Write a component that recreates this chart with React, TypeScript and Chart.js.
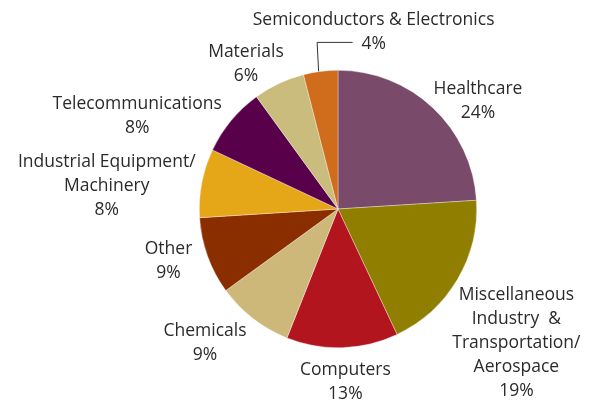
import React, { useEffect, useRef } from "react";
import { Chart, registerables } from "chart.js";

Chart.register(...registerables);

const categories = [
  "Healthcare",
  "Miscellaneous Industry & Transportation/ Aerospace",
  "Computers",
  "Chemicals",
  "Other",
  "Industrial Equipment/ Machinery",
  "Telecommunications",
  "Materials",
  "Semiconductors & Electronics",
];
const values = [24, 19, 13, 9, 9, 8, 8, 6, 4];
const labelLines = [
  ["Healthcare"],
  ["Miscellaneous", "Industry  &", "Transportation/", "Aerospace"],
  ["Computers"],
  ["Chemicals"],
  ["Other"],
  ["Industrial Equipment/", "Machinery"],
  ["Telecommunications"],
  ["Materials"],
  ["Semiconductors & Electronics"],
];
const colors = [
  "#7A4A6B",
  "#8F7E00",
  "#B3151F",
  "#CDB87A",
  "#8A2E00",
  "#E5A618",
  "#59004B",
  "#C9BC7C",
  "#CF6D1C",
];
// label block offsets (px) relative to the slice's outer mid-point
const labelOffsets = [
  [45, -7],
  [59, 63],
  [3, 34],
  [-48, 24],
  [-39, 5],
  [-95, 3],
  [-94, -5],
  [-33, -19],
  [53, -39],
];
const leaderIndex = 8;

const FONT = '17.5px "Open Sans"';
const LINE_H = 24;

const labelPlugin = {
  id: "outerLabels",
  afterDraw(chart: any) {
    const ctx = chart.ctx;
    const meta = chart.getDatasetMeta(0);
    ctx.save();
    ctx.font = FONT;
    ctx.fillStyle = "#2b2b2b";
    ctx.textAlign = "center";
    ctx.textBaseline = "middle";
    meta.data.forEach((arc: any, i: number) => {
      const { x, y, startAngle, endAngle, outerRadius } = arc.getProps(
        ["x", "y", "startAngle", "endAngle", "outerRadius"],
        true
      );
      const mid = (startAngle + endAngle) / 2;
      const px = x + Math.cos(mid) * outerRadius;
      const py = y + Math.sin(mid) * outerRadius;
      const lines = [...labelLines[i], values[i] + "%"];
      const cx = px + labelOffsets[i][0];
      const cy = py + labelOffsets[i][1];
      const top = cy - ((lines.length - 1) * LINE_H) / 2;
      lines.forEach((t, k) => ctx.fillText(t, cx, top + k * LINE_H));
      if (i === leaderIndex) {
        const hy = top + LINE_H * 0.5 + 10;
        ctx.strokeStyle = "#333";
        ctx.lineWidth = 1;
        ctx.beginPath();
        ctx.moveTo(px - 2, py);
        ctx.lineTo(px - 3.5, hy);
        ctx.lineTo(px + 32, hy);
        ctx.stroke();
      }
    });
    ctx.restore();
  },
};

export default function App() {
  const ref = useRef<HTMLCanvasElement | null>(null);
  useEffect(() => {
    document.body.style.margin = "0";
    const chart = new Chart(ref.current!, {
      type: "pie",
      data: {
        labels: categories,
        datasets: [
          {
            data: values,
            backgroundColor: colors,
            borderWidth: 0.6,
            borderColor: "rgba(255,255,255,0.6)",
          },
        ],
      },
      options: {
        responsive: false,
        animation: false,
        layout: { padding: { left: 199, right: 113, top: 70, bottom: 55 } },
        plugins: { legend: { display: false }, tooltip: { enabled: false } },
      },
      plugins: [labelPlugin],
    });
    return () => chart.destroy();
  }, []);
  return (
    <div style={{ width: 590, height: 403, background: "#fff" }}>
      <canvas ref={ref} width={590} height={403} />
    </div>
  );
}
